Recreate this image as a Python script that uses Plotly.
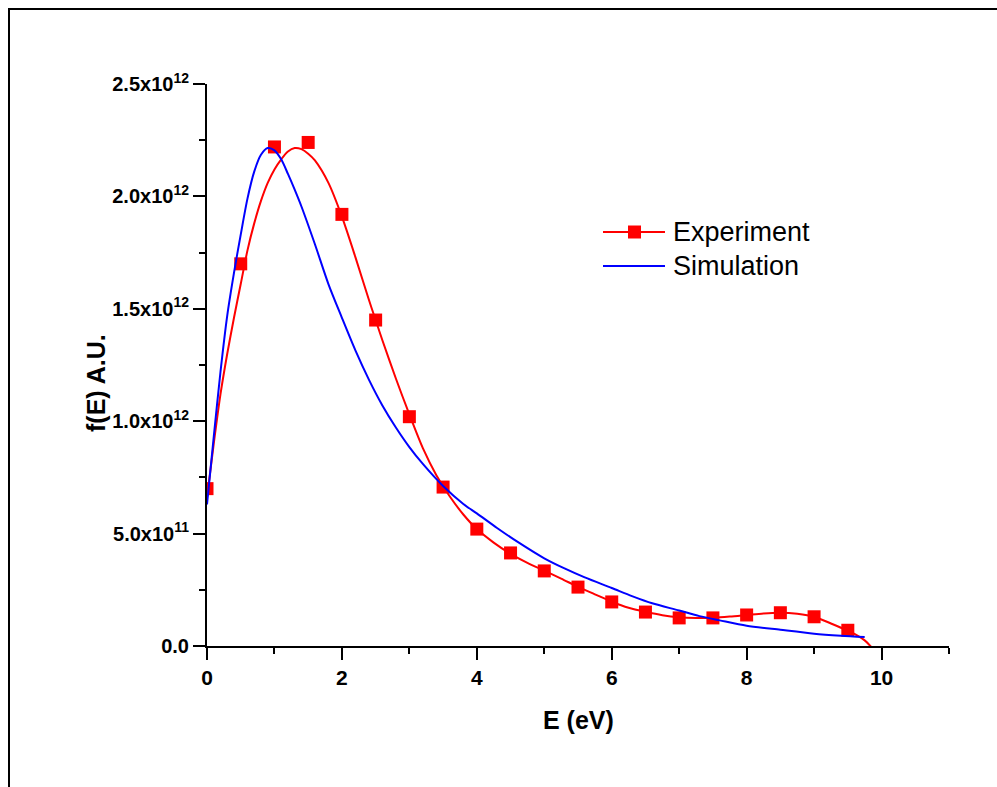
import plotly.graph_objects as go

# Experiment data points (x in eV, y in units of 1e12)
exp_x = [0.0, 0.5, 1.0, 1.5, 2.0, 2.5, 3.0, 3.5, 4.0, 4.5, 5.0, 5.5, 6.0, 6.5, 7.0, 7.5, 8.0, 8.5, 9.0, 9.5]
exp_y = [0.70, 1.70, 2.22, 2.24, 1.92, 1.45, 1.02, 0.707, 0.52, 0.414, 0.334, 0.262, 0.196, 0.151, 0.125, 0.125, 0.138, 0.148, 0.130, 0.070]

# Smoothed experiment curve
fit_x = [0.0, 0.1, 0.2, 0.3, 0.4, 0.5, 0.6, 0.7, 0.8, 0.9, 1.0, 1.1, 1.2, 1.3, 1.4, 1.5, 1.6, 1.8,
         2.0, 2.2, 2.4, 2.5, 2.6, 2.8, 3.0, 3.2, 3.4, 3.6, 3.8, 4.0, 4.25, 4.5, 4.75, 5.0, 5.25,
         5.5, 5.75, 6.0, 6.25, 6.5, 6.75, 7.0, 7.25, 7.5, 7.75, 8.0, 8.25, 8.5, 8.75, 9.0, 9.25,
         9.5, 9.65, 9.75, 9.85]
fit_y = [0.66, 0.90, 1.12, 1.30, 1.46, 1.61, 1.76, 1.88, 1.98, 2.06, 2.12, 2.165, 2.20, 2.215, 2.21, 2.19, 2.16, 2.06,
         1.91, 1.73, 1.54, 1.45, 1.36, 1.19, 1.03, 0.88, 0.76, 0.665, 0.585, 0.52, 0.46, 0.41, 0.37, 0.335, 0.30,
         0.263, 0.23, 0.197, 0.17, 0.152, 0.137, 0.128, 0.125, 0.126, 0.131, 0.138, 0.145, 0.148, 0.143, 0.13, 0.10,
         0.068, 0.045, 0.025, -0.005]

# Simulation curve
sim_x = [0.0, 0.1, 0.2, 0.3, 0.4, 0.5, 0.6, 0.7, 0.8, 0.9, 1.0, 1.1, 1.2, 1.3, 1.4, 1.6, 1.8, 2.0, 2.2, 2.4,
         2.6, 2.8, 3.0, 3.2, 3.5, 3.8, 4.0, 4.3, 4.6, 5.0, 5.3, 5.6, 6.0, 6.3, 6.6, 7.0, 7.3, 7.6,
         8.0, 8.5, 9.0, 9.4, 9.75]
sim_y = [0.63, 0.93, 1.22, 1.47, 1.66, 1.83, 1.99, 2.11, 2.185, 2.215, 2.205, 2.165, 2.10, 2.03, 1.955, 1.787, 1.61,
         1.46, 1.315, 1.185, 1.07, 0.972, 0.885, 0.81, 0.712, 0.632, 0.59, 0.525, 0.464, 0.39, 0.345, 0.305,
         0.258, 0.222, 0.19, 0.158, 0.133, 0.114, 0.09, 0.072, 0.055, 0.046, 0.04]

SCALE = 1e12
y_tickvals = [0.0, 0.5, 1.0, 1.5, 2.0, 2.5]
y_ticktext = ["0.0", "5.0x10<sup>11</sup>", "1.0x10<sup>12</sup>", "1.5x10<sup>12</sup>",
              "2.0x10<sup>12</sup>", "2.5x10<sup>12</sup>"]
x_tickvals = [0, 2, 4, 6, 8, 10]
x_ticktext = ["0", "2", "4", "6", "8", "10"]

FONT = "Liberation Sans, Arial, sans-serif"

fig = go.Figure()
fig.add_trace(go.Scatter(x=fit_x, y=[v * SCALE for v in fit_y], mode="lines",
                         line=dict(color="#ff0000", width=2, shape="spline", smoothing=0.8),
                         showlegend=False))
fig.add_trace(go.Scatter(x=exp_x, y=[v * SCALE for v in exp_y], mode="markers",
                         marker=dict(symbol="square", size=13, color="#ff0000"),
                         showlegend=False))
fig.add_trace(go.Scatter(x=sim_x, y=[v * SCALE for v in sim_y], mode="lines",
                         line=dict(color="#0000ff", width=2, shape="spline", smoothing=0.8),
                         showlegend=False))

L, T, R, B = 207, 84, 949, 646
W, H = 997, 787
pw, ph = R - L, B - T


def px(xp):
    return (xp - L) / pw


def py(yp):
    return (B - yp) / ph


shapes = [
    # outer frame
    dict(type="rect", xref="paper", yref="paper", x0=px(9), x1=px(1010), y0=py(800), y1=py(9),
         line=dict(color="black", width=2), fillcolor="rgba(0,0,0,0)", layer="below"),
    # legend samples
    dict(type="line", xref="paper", yref="paper", x0=px(603), x1=px(665), y0=py(232), y1=py(232),
         line=dict(color="#ff0000", width=2)),
    dict(type="rect", xref="paper", yref="paper", x0=px(628), x1=px(641), y0=py(238.5), y1=py(225.5),
         line=dict(color="#ff0000", width=0), fillcolor="#ff0000"),
    dict(type="line", xref="paper", yref="paper", x0=px(603), x1=px(665), y0=py(266), y1=py(266),
         line=dict(color="#0000ff", width=2)),
]

annotations = [
    dict(text="Experiment", xref="paper", yref="paper", x=px(671), y=py(232), xanchor="left",
         yanchor="middle", showarrow=False, font=dict(family=FONT, size=27, color="black")),
    dict(text="Simulation", xref="paper", yref="paper", x=px(671), y=py(266), xanchor="left",
         yanchor="middle", showarrow=False, font=dict(family=FONT, size=27, color="black")),
    dict(text="f(E) A.U.", xref="paper", yref="paper", x=px(96), y=py(383), textangle=-90,
         xanchor="center", yanchor="middle", showarrow=False,
         font=dict(family=FONT, size=25, color="black", weight="bold")),
    dict(text="E (eV)", xref="paper", yref="paper", x=px(578), y=py(720),
         xanchor="center", yanchor="middle", showarrow=False,
         font=dict(family=FONT, size=25, color="black", weight="bold")),
]

fig.update_layout(
    width=W, height=H,
    margin=dict(l=L, r=W - R, t=T, b=H - B),
    paper_bgcolor="white", plot_bgcolor="white",
    font=dict(family=FONT, color="black"),
    shapes=shapes, annotations=annotations,
    showlegend=False,
)
fig.update_xaxes(
    range=[0, 11], tickvals=x_tickvals, ticktext=x_ticktext,
    showline=True, linecolor="black", linewidth=2, showgrid=False, zeroline=False,
    ticks="outside", ticklen=12, tickwidth=2, tickcolor="black",
    tickfont=dict(family=FONT, size=21, color="black", weight="bold"),
    minor=dict(tickvals=[1, 3, 5, 7, 9, 11], ticks="outside", ticklen=6, tickwidth=2, tickcolor="black", showgrid=False),
)
fig.update_yaxes(
    range=[0, 2.5 * SCALE], tickvals=[v * SCALE for v in y_tickvals],
    ticktext=y_ticktext,
    showline=True, linecolor="black", linewidth=2, showgrid=False, zeroline=False,
    ticks="outside", ticklen=12, tickwidth=2, tickcolor="black",
    tickfont=dict(family=FONT, size=20, color="black", weight="bold"),
    minor=dict(tickvals=[v * SCALE for v in [0.25, 0.75, 1.25, 1.75, 2.25]], ticks="outside", ticklen=6,
               tickwidth=2, tickcolor="black", showgrid=False),
)

fig.write_html("out.html")
